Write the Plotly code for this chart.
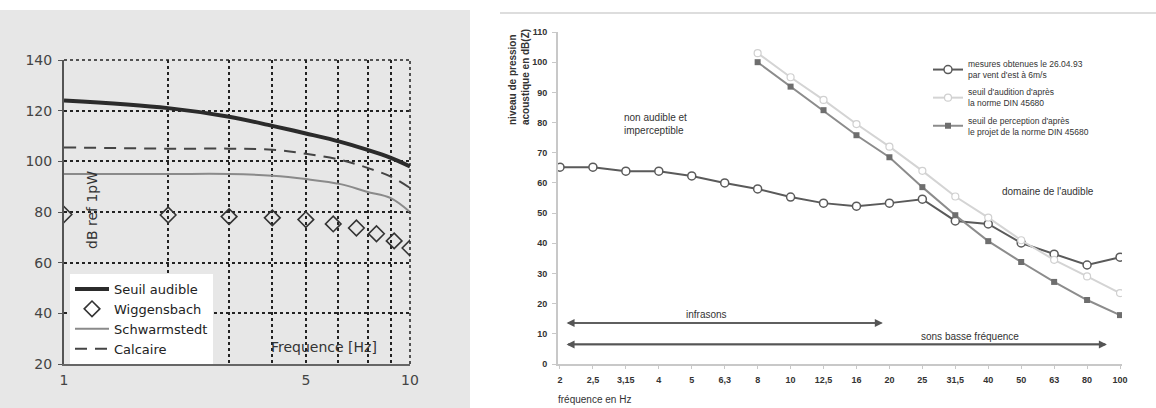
import plotly.graph_objects as go

W, H = 1156, 408

# ---------------- Left chart data ----------------
L_FREQ = [1, 2, 3, 4, 5, 6.3, 7.5, 8.8, 10]
SEUIL_AUDIBLE = [124, 121, 117.6, 114, 111, 107.7, 104.6, 101.4, 98]
CALCAIRE = [105.5, 105, 105, 104.6, 103, 100.6, 97.5, 94, 89.5]
SCHWARMSTEDT = [95, 95, 95, 94.3, 93, 91, 88, 85.5, 80]
W_FREQ = [1, 2, 3, 4, 5, 6, 7, 8, 9, 10]
WIGGENSBACH = [79, 78.8, 78.2, 77.7, 77, 75.3, 73.7, 71.4, 68.6, 65.8]
L_GRID_X = [1, 2, 3, 4, 5, 6.2, 7.55, 8.8, 10]
L_TICKTEXT = ["1", "", "", "", "5", "", "", "", "10"]
L_YTICKS = [20, 40, 60, 80, 100, 120, 140]

# ---------------- Right chart data ----------------
R_FREQ = ["2", "2,5", "3,15", "4", "5", "6,3", "8", "10", "12,5", "16", "20",
          "25", "31,5", "40", "50", "63", "80", "100"]
MESURES = [65.2, 65.2, 63.9, 63.9, 62.3, 60, 58, 55.3, 53.3, 52.3, 53.3,
           54.6, 47.4, 46.4, 40.1, 36.4, 32.8, 35.4]
DIN_FREQ = ["8", "10", "12,5", "16", "20", "25", "31,5", "40", "50", "63", "80", "100"]
SEUIL_AUDITION = [103, 95, 87.5, 79.5, 72, 64, 55.5, 48.5, 41, 34.5, 29, 23.5]
SEUIL_PERCEPTION = [100, 91.9, 84.1, 75.8, 68.5, 58.6, 49.3, 40.7, 33.8, 27.2, 21.2, 16.2]
R_YTICKS = list(range(0, 111, 10))


def px(x):
    return x / W


def py(y):
    return 1 - y / H


fig = go.Figure()

# Left traces
fig.add_trace(go.Scatter(x=L_FREQ, y=SEUIL_AUDIBLE, mode="lines", name="Seuil audible",
                         line=dict(color="#2b2b2b", width=4, shape="spline"),
                         xaxis="x", yaxis="y", legend="legend"))
fig.add_trace(go.Scatter(x=W_FREQ, y=WIGGENSBACH, mode="markers", name="Wiggensbach",
                         marker=dict(symbol="diamond-open", size=12, color="#333",
                                     line=dict(width=1.6)),
                         xaxis="x", yaxis="y", legend="legend"))
fig.add_trace(go.Scatter(x=L_FREQ, y=SCHWARMSTEDT, mode="lines", name="Schwarmstedt",
                         line=dict(color="#8a8a8a", width=2, shape="spline"),
                         xaxis="x", yaxis="y", legend="legend"))
fig.add_trace(go.Scatter(x=L_FREQ, y=CALCAIRE, mode="lines", name="Calcaire",
                         line=dict(color="#444", width=2, dash="12px,8px", shape="spline"),
                         xaxis="x", yaxis="y", legend="legend"))

# Right traces
fig.add_trace(go.Scatter(x=R_FREQ, y=MESURES, mode="lines+markers",
                         name="mesures obtenues le 26.04.93<br>par vent d'est à 6m/s",
                         line=dict(color="#5a5a5a", width=2),
                         marker=dict(symbol="circle", size=8, color="white",
                                     line=dict(color="#5a5a5a", width=1.5)),
                         xaxis="x2", yaxis="y2", legend="legend2", legendgroup="a"))
fig.add_trace(go.Scatter(x=DIN_FREQ, y=SEUIL_AUDITION, mode="lines+markers",
                         name="seuil d'audition d'après<br>la norme DIN 45680",
                         line=dict(color="#d4d4d4", width=2),
                         marker=dict(symbol="circle", size=7, color="white",
                                     line=dict(color="#d0d0d0", width=1.2)),
                         xaxis="x2", yaxis="y2", legend="legend2", legendgroup="b"))
fig.add_trace(go.Scatter(x=DIN_FREQ, y=SEUIL_PERCEPTION, mode="lines+markers",
                         name="seuil de perception d'après<br>le projet de la norme DIN 45680",
                         line=dict(color="#8c8c8c", width=2),
                         marker=dict(symbol="square", size=6, color="#6e6e6e"),
                         xaxis="x2", yaxis="y2", legend="legend2", legendgroup="c"))

DOT = dict(color="#222", width=1.5, dash="dot")
shapes = [
    # gray scanned background of left panel
    dict(type="rect", xref="paper", yref="paper", x0=0, x1=px(470), y0=0, y1=py(10),
         fillcolor="#e7e7e7", line=dict(width=0), layer="below"),
    # thin rule at top of right panel
    dict(type="line", xref="paper", yref="paper", x0=px(500), x1=1, y0=py(13), y1=py(13),
         line=dict(color="#dddddd", width=2)),
    # dotted top and right borders of left plot
    dict(type="line", xref="x domain", yref="y domain", x0=0, x1=1, y0=1, y1=1, line=DOT),
    dict(type="line", xref="x domain", yref="y domain", x0=1, x1=1, y0=0, y1=1, line=DOT),
]

annotations = [
    dict(text="Frequence [Hz]", xref="paper", yref="paper", x=px(324), y=py(347),
         xanchor="center", yanchor="middle", showarrow=False,
         font=dict(family="DejaVu Sans", size=14, color="#333")),
    dict(text="dB ref 1pW", xref="paper", yref="paper", x=px(92), y=py(210),
         xanchor="center", yanchor="middle", textangle=-90, showarrow=False,
         font=dict(family="DejaVu Sans", size=14, color="#333")),
    # right chart texts
    dict(text="niveau de pression<br>acoustique en dB(Z)", xref="paper", yref="paper",
         x=px(519), y=py(77), xanchor="center", yanchor="middle", textangle=-90,
         showarrow=False, align="left",
         font=dict(family="Liberation Sans", size=10, color="#333", weight="bold")),
    dict(text="fréquence en Hz", xref="paper", yref="paper", x=px(556), y=py(399),
         xanchor="left", yanchor="middle", showarrow=False,
         font=dict(family="Liberation Sans", size=10, color="#333")),
    dict(text="non audible et<br>imperceptible", xref="x2", yref="y2", x=1.88, y=79.5,
         xanchor="left", yanchor="middle", align="left", showarrow=False,
         font=dict(family="Liberation Sans", size=10, color="#333")),
    dict(text="domaine de l'audible", xref="x2", yref="y2", x=14.8, y=57,
         xanchor="center", yanchor="middle", showarrow=False,
         font=dict(family="Liberation Sans", size=10, color="#333")),
    dict(text="infrasons", xref="x2", yref="y2", x=4.46, y=16.3, showarrow=False,
         xanchor="center", yanchor="middle",
         font=dict(family="Liberation Sans", size=10, color="#333")),
    dict(text="sons basse fréquence", xref="x2", yref="y2", x=12.45, y=9.0, showarrow=False,
         xanchor="center", yanchor="middle",
         font=dict(family="Liberation Sans", size=10, color="#333")),
]

ARROWS = [(0.2, 9.8, 13.6), (0.2, 16.6, 6.5)]
for x0, x1, yv in ARROWS:
    for a, b in ((x0, x1), (x1, x0)):
        annotations.append(dict(x=b, y=yv, ax=a, ay=yv, xref="x2", yref="y2",
                                axref="x2", ayref="y2", text="", showarrow=True,
                                arrowhead=2, arrowsize=1, arrowwidth=1.6,
                                arrowcolor="#555"))

fig.update_layout(
    width=W, height=H, autosize=False,
    margin=dict(l=0, r=0, t=0, b=0, pad=0, autoexpand=False),
    paper_bgcolor="white", plot_bgcolor="white",
    shapes=shapes, annotations=annotations,
    xaxis=dict(type="log", range=[0, 1], domain=[px(64), px(410)], anchor="y",
               tickvals=L_GRID_X, ticktext=L_TICKTEXT, ticks="",
               showgrid=True, gridcolor="#222", griddash="dot", gridwidth=1.5,
               showline=True, linecolor="#666", linewidth=2,
               tickfont=dict(family="DejaVu Sans", size=14, color="#444"),
               ticklabelstandoff=2, zeroline=False, automargin=False),
    yaxis=dict(range=[20, 140], domain=[py(364), py(60)], anchor="x",
               tickvals=L_YTICKS, ticks="outside", ticklen=4, tickcolor="#555",
               showgrid=True, gridcolor="#222", griddash="dot", gridwidth=1.5,
               showline=True, linecolor="#555", linewidth=2,
               tickfont=dict(family="DejaVu Sans", size=14, color="#444"),
               ticklabelstandoff=3, zeroline=False, automargin=False),
    xaxis2=dict(type="category", categoryorder="array", categoryarray=R_FREQ,
                range=[-0.06, 17.06], domain=[px(558), px(1122)], anchor="y2",
                ticks="outside", ticklen=3, tickcolor="#c8c8c8",
                showgrid=False, showline=True, linecolor="#c8c8c8", linewidth=2,
                tickfont=dict(family="Liberation Sans", size=9, color="#333", weight="bold"),
                ticklabelstandoff=3, zeroline=False, automargin=False),
    yaxis2=dict(range=[0, 110], domain=[py(364), py(32)], anchor="x2",
                tickvals=R_YTICKS, ticks="outside", ticklen=4, tickcolor="#c8c8c8",
                showgrid=False, showline=True, linecolor="#c8c8c8", linewidth=2,
                tickfont=dict(family="Liberation Sans", size=9, color="#333", weight="bold"),
                ticklabelstandoff=3, zeroline=False, automargin=False),
    legend=dict(x=px(70), y=py(274), xanchor="left", yanchor="top",
                bgcolor="white", borderwidth=0, tracegroupgap=0,
                font=dict(family="DejaVu Sans", size=13, color="#222"),
                itemwidth=34),
    legend2=dict(x=px(928), y=py(52), xanchor="left", yanchor="top",
                 bgcolor="rgba(255,255,255,0)", borderwidth=0, tracegroupgap=3,
                 font=dict(family="Liberation Sans", size=8.5, color="#333"),
                 itemwidth=30),
)

fig.write_html("out.html", config={"displayModeBar": False},
               post_script="document.body.style.margin='0';"
               "document.body.style.overflow='hidden';")
